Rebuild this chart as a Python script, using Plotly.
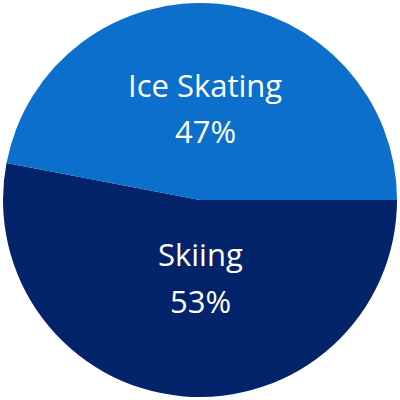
import plotly.graph_objects as go

# Data (clockwise from 3 o'clock)
labels = ['Skiing', 'Ice Skating']
values = [53, 47]
colors = ['#03236A', '#0B6FCB']

fig = go.Figure(go.Pie(
    labels=labels,
    values=values,
    sort=False,
    direction='clockwise',
    rotation=90,
    marker=dict(colors=colors, line=dict(width=0)),
    textinfo='none',
    hoverinfo='label+percent',
))

# label placement in pixels (centre x, centre y of name line, of percent line)
total = sum(values)
label_pos = {'Skiing': (200, 254, 301), 'Ice Skating': (205, 85, 131)}

def px_x(x):
    return (x - 3) / 394

def px_y(y):
    return (397 - y) / 394

annotations = []
for lab, val in zip(labels, values):
    cx, y1, y2 = label_pos[lab]
    pct = '{:.0f}%'.format(100 * val / total)
    for txt, yy in ((lab, y1), (pct, y2)):
        annotations.append(dict(
            text=txt, x=px_x(cx), y=px_y(yy), xref='paper', yref='paper',
            xanchor='center', yanchor='middle', showarrow=False,
            font=dict(family='Open Sans', size=31, color='white'),
        ))

fig.update_layout(
    width=400, height=400,
    margin=dict(l=3, r=3, t=3, b=3),
    showlegend=False,
    paper_bgcolor='white',
    annotations=annotations,
)

fig.write_html('out.html', config={'displayModeBar': False},
               post_script="document.body.style.margin='0';")
